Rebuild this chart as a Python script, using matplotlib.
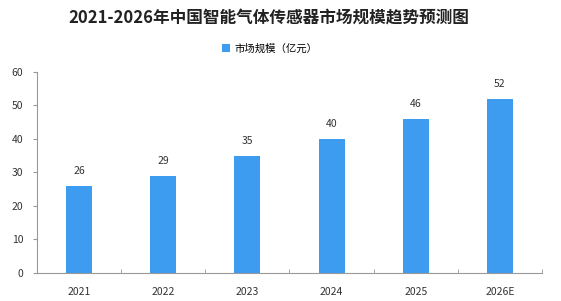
import matplotlib
matplotlib.use('Agg')
from matplotlib import pyplot as plt
import numpy as np

plt.rcParams['font.family'] = ['Noto Sans CJK SC', 'DejaVu Sans']

years = ['2021', '2022', '2023', '2024', '2025', '2026E']
values = [26, 29, 35, 40, 46, 52]
series_name = '市场规模（亿元）'
title = '2021-2026年中国智能气体传感器市场规模趋势预测图'
bar_color = '#3d9bf0'

fig = plt.figure(figsize=(5.61, 3.01), dpi=100)
ax = fig.add_axes([0.066, 0.093, 0.9, 0.668])

x = np.arange(len(years))
bars = ax.bar(x, values, width=0.31, color=bar_color, label=series_name, zorder=2)
for xi, v in zip(x, values):
    ax.text(xi, v + 3, str(v), ha='center', va='bottom', fontsize=7.5, color='#333333')

ax.set_xlim(-0.5, len(years) - 0.5)
ax.set_ylim(0, 60)
ax.set_yticks(range(0, 61, 10))
ax.set_xticks(x)
ax.set_xticklabels(years)
ax.set_xticks(np.arange(-0.5, len(years)), minor=True)
ax.tick_params(axis='x', which='major', length=0, labelsize=7.5, pad=10, colors='#333333')
ax.tick_params(axis='x', which='minor', direction='in', length=3, color='#999999')
ax.tick_params(axis='y', length=3, color='#999999', labelsize=7.5, labelcolor='#333333', pad=7)

for s in ['top', 'right']:
    ax.spines[s].set_visible(False)
for s in ['left', 'bottom']:
    ax.spines[s].set_color('#999999')
    ax.spines[s].set_linewidth(0.8)

fig.text(0.479, 0.94, title, ha='center', va='center', fontsize=12, fontweight='bold', color='#222222')
fig.legend(handles=[bars], labels=[series_name], loc='center', bbox_to_anchor=(0.48, 0.838),
           frameon=False, fontsize=7.5, handlelength=0.8, handleheight=0.8, handletextpad=0.4)

fig.savefig('out.png', dpi=100)
